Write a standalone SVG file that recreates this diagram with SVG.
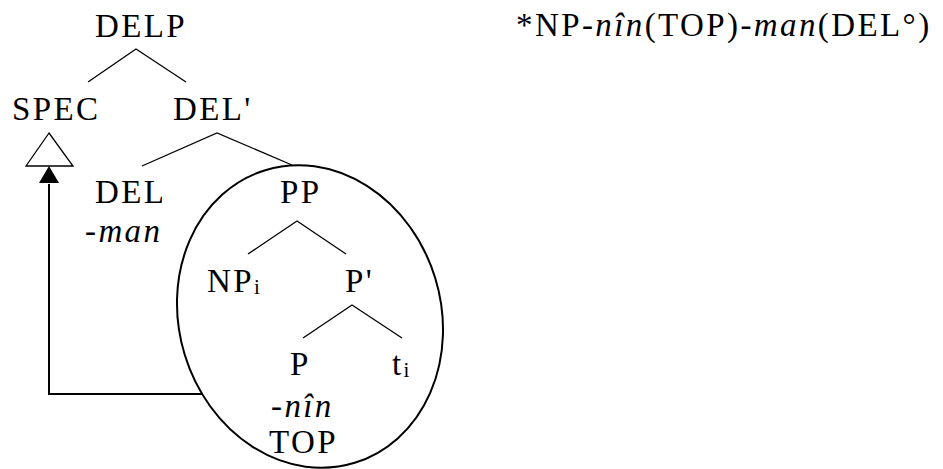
<svg xmlns="http://www.w3.org/2000/svg" width="943" height="469" viewBox="0 0 943 469">
<style>
text{font-family:'Liberation Serif','Times New Roman',serif;font-size:33px;letter-spacing:2.4px;fill:#000}
.it{font-style:italic}
.sub{font-size:21px;letter-spacing:0}
.br{stroke:#000;stroke-width:1.3;fill:none}
.thick{stroke:#000;stroke-width:2;fill:none}
</style>
<rect width="943" height="469" fill="#fff"/>
<g id="connectors">
<polyline class="br" points="88,82 136,49 186,82"/>
<polyline class="br" points="142,166 217,133 292,165"/>
<polyline class="br" points="248,254 297,221 346,254"/>
<polyline class="br" points="303,338 352,305 402,338"/>
<path class="thick" d="M203,394 H49 V184"/>
<path d="M49,166 L59,183 L39,183 Z" fill="#000"/>
</g>
<g id="ellipse"><ellipse class="thick" cx="310" cy="316.5" rx="131" ry="153" transform="rotate(-17 310 316.5)"/></g>
<g id="node-delp"><text x="95" y="37">DELP</text></g>
<g id="node-spec"><text x="12" y="120">SPEC</text>
<polygon class="br" points="49,133 73,166 26,166"/></g>
<g id="node-delbar"><text x="173" y="120">DEL'</text></g>
<g id="node-del"><text x="95" y="203">DEL</text><text class="it" x="85" y="242">-man</text></g>
<g id="node-pp"><text x="280" y="203">PP</text></g>
<g id="node-np"><text x="207" y="292">NP<tspan class="sub" dy="2">i</tspan></text></g>
<g id="node-pbar"><text x="345" y="292">P'</text></g>
<g id="node-p"><text x="290" y="375">P</text><text class="it" x="271" y="417">-nîn</text><text x="269" y="453">TOP</text></g>
<g id="node-t"><text x="392" y="375">t<tspan class="sub" dy="2">i</tspan></text></g>
<g id="label"><text x="516" y="36">*NP-<tspan class="it">nîn</tspan>(TOP)-<tspan class="it">man</tspan>(DEL°)</text></g>
</svg>
